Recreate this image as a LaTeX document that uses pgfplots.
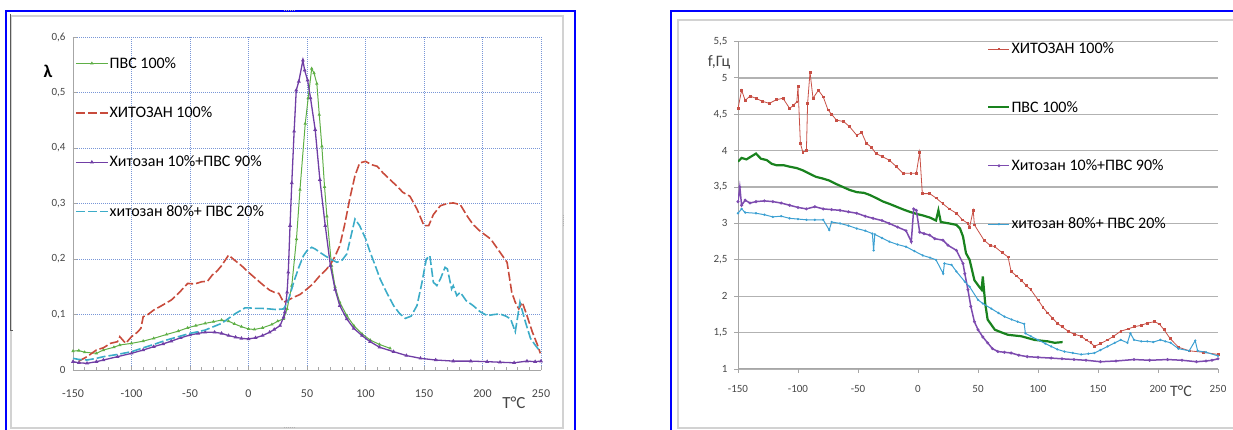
\documentclass[border=0pt]{standalone}
\usepackage{pgfplots}
\pgfplotsset{compat=1.18}
\usepackage{fontspec}
\setmainfont{Carlito}
\definecolor{lgreen}{RGB}{95,175,70}
\definecolor{lred}{RGB}{200,75,60}
\definecolor{lpurple}{RGB}{112,62,165}
\definecolor{lcyan}{RGB}{60,172,200}
\definecolor{rred}{RGB}{200,80,70}
\definecolor{rgreen}{RGB}{25,130,30}
\definecolor{rpurple}{RGB}{125,75,175}
\definecolor{rcyan}{RGB}{60,160,210}
\definecolor{gridblue}{RGB}{120,150,215}
\definecolor{tickgray}{RGB}{70,70,70}
\begin{document}
\begin{tikzpicture}
\path[use as bounding box] (0pt,0pt) rectangle (1233pt,430pt);
% panel frames
\draw[gray!35, line width=1.5pt] (11pt,414pt) rectangle (563pt,2pt);
\draw[blue, line width=2pt] (6pt,419pt) rectangle (575pt,-5pt);
\draw[gray!70!black, line width=0.8pt] (10pt,416pt) -- (10pt,100pt) -- (13pt,100pt);
\draw[gray!60, line width=1pt, dash pattern=on 1pt off 1pt] (284pt,419pt) -- (296pt,419pt);
\draw[gray!60, line width=1pt, dash pattern=on 1pt off 1pt] (284pt,2pt) -- (296pt,2pt);
\draw[gray!60, line width=1pt, dash pattern=on 1pt off 1pt] (563pt,204pt) -- (563pt,216pt);
\draw[gray!35, line width=1.5pt] (678pt,410pt) rectangle (1245pt,2pt);
\draw[blue, line width=2pt] (671pt,419pt) rectangle (1245pt,-5pt);

% ---------------- left chart ----------------
\begin{axis}[
  at={(73pt,60pt)}, anchor=south west,
  scale only axis, width=468pt, height=333pt,
  xmin=-150, xmax=250, ymin=0, ymax=0.6,
  xtick={-150,-100,-50,0,50,100,150,200,250},
  ytick={0,0.1,0.2,0.3,0.4,0.5,0.6},
  minor x tick num=4,
  xtick pos=bottom, ytick pos=left,
  axis line style={draw=none},
  clip mode=individual,
  tick align=inside, major tick length=4pt, minor tick length=3pt,
  tick style={draw=gray!70, line width=0.6pt},
  xmajorgrids, ymajorgrids,
  major grid style={draw=gridblue, dash pattern=on 1pt off 1pt, line width=0.8pt},
  /pgf/number format/use comma,
  /pgf/number format/assume math mode=true,
  ticklabel style={font=\fontsize{11}{12}\selectfont, text=tickgray},
  xticklabel style={yshift=-16pt, font=\fontsize{12}{13}\selectfont},
  yticklabel style={xshift=-4pt},
  legend cell align=left,
  legend style={at={(rel axis cs:0.004,0.943)}, anchor=north west, draw=none, fill=none,
    font=\fontsize{16}{17}\selectfont, row sep=35pt, inner sep=0pt,
    nodes={inner sep=1pt}},
  legend image code/.code={\draw[#1, mark repeat=2, mark phase=2] plot coordinates {(0pt,0pt) (16pt,0pt) (32pt,0pt)};},
]
\draw[gray!70, line width=0.8pt] (rel axis cs:0,1) -- (rel axis cs:0,0) -- (rel axis cs:1,0);
\addplot[lgreen, line width=1pt, mark=triangle*, mark size=1pt] coordinates {
(-150,0.034) (-145,0.035) (-140,0.032) (-130,0.030) (-124,0.036) (-115,0.041) (-110,0.045)
(-100,0.048) (-90,0.052) (-81,0.057) (-70,0.064) (-60,0.070) (-52,0.076) (-45,0.080)
(-37,0.084) (-30,0.087) (-23,0.090) (-17,0.088) (-12,0.083) (-6,0.078) (0,0.074) (5,0.073)
(12,0.076) (20,0.082) (25,0.088) (30,0.092) (33,0.110) (37,0.152) (41,0.236) (44,0.325)
(48.5,0.444) (51,0.490) (54,0.543) (56,0.535) (58.4,0.516) (60.5,0.460) (62.7,0.403)
(65,0.330) (67,0.277) (71,0.188) (74,0.150) (78,0.122) (84,0.098) (90,0.080) (97,0.065)
(104,0.054) (112,0.046) (121,0.039)};
\addlegendentry{ПВС  100\%}
\addplot[lred, line width=1.6pt, dash pattern=on 9pt off 3pt] coordinates {
(-145,0.016) (-138,0.024) (-130,0.036) (-124,0.040) (-118,0.048) (-112,0.051) (-110,0.060)
(-105,0.048) (-100,0.060) (-95,0.068) (-92,0.075) (-90,0.096) (-86,0.100) (-81,0.108)
(-75,0.115) (-66,0.126) (-59,0.140) (-52,0.156) (-46,0.155) (-40,0.159) (-35,0.160)
(-31,0.171) (-27,0.178) (-23,0.188) (-17,0.207) (-12,0.198) (-6,0.188) (0,0.176) (6,0.165)
(12,0.154) (18,0.144) (22,0.140) (26,0.138) (30,0.122) (34,0.126) (38.6,0.131) (44,0.136)
(50,0.146) (55,0.155) (61,0.170) (66,0.180) (70,0.190) (74,0.205) (78,0.224) (82,0.260)
(87,0.313) (91,0.350) (95,0.373) (100,0.376) (105,0.370) (110,0.367) (115,0.355) (120,0.345)
(127,0.331) (132,0.320) (138,0.313) (144,0.290) (150,0.260) (154,0.260) (158,0.280)
(164,0.296) (170,0.300) (175,0.301) (181,0.298) (187,0.277) (192,0.262) (198,0.250)
(207,0.236) (215,0.212) (221,0.194) (225,0.140) (228,0.122) (231,0.110) (234,0.122)
(238,0.098) (242.5,0.069) (247,0.045) (249.4,0.030)};
\addlegendentry{ХИТОЗАН 100\%}
\addplot[lpurple, line width=1.3pt, mark=triangle*, mark size=1pt] coordinates {
(-150,0.015) (-145,0.013) (-138,0.012) (-130,0.015) (-124,0.018) (-112,0.024) (-100,0.030)
(-90,0.036) (-81,0.042) (-73,0.047) (-66,0.052) (-58,0.058) (-50,0.063) (-43,0.066)
(-37,0.068) (-29,0.068) (-23,0.066) (-17,0.062) (-11,0.059) (-6,0.057) (0,0.056) (6,0.058)
(12,0.062) (18,0.068) (22,0.073) (27,0.080) (30,0.095) (31,0.104) (33,0.140) (34,0.176)
(35.5,0.260) (37,0.337) (39,0.430) (40.8,0.504) (43,0.520) (46.5,0.558) (48,0.540)
(50.5,0.522) (53,0.490) (57,0.433) (61,0.343) (65.6,0.260) (70,0.188) (74,0.145) (78,0.116)
(84,0.092) (90,0.075) (97,0.062) (104,0.051) (112,0.041) (124,0.033) (135,0.026) (147,0.021)
(160,0.018) (175,0.016) (190,0.016) (204,0.015) (215,0.014) (227,0.013) (238,0.016)
(245,0.015) (250,0.016)};
\addlegendentry{Хитозан 10\%+ПВС 90\%}
\addplot[lcyan, line width=1.6pt, dash pattern=on 9pt off 3pt] coordinates {
(-150,0.021) (-145,0.019) (-138,0.018) (-130,0.021) (-124,0.024) (-112,0.028) (-100,0.033)
(-90,0.040) (-81,0.046) (-70,0.054) (-60,0.060) (-50,0.066) (-43,0.069) (-37,0.072)
(-30,0.078) (-23,0.084) (-17,0.093) (-11,0.102) (-6,0.108) (-3,0.112) (0,0.112) (6,0.111)
(12,0.111) (18,0.110) (23,0.109) (30,0.110) (34,0.125) (38.6,0.158) (43,0.185) (47,0.206)
(50,0.215) (54,0.221) (57,0.218) (61,0.212) (66,0.205) (70,0.200) (75.6,0.194) (80,0.198)
(84,0.209) (88,0.245) (91,0.272) (95,0.260) (100,0.237) (104,0.212) (108,0.190)
(112.5,0.164) (118,0.140) (124,0.116) (129,0.102) (134,0.093) (139,0.097) (144,0.116)
(148,0.155) (152,0.200) (155,0.206) (158,0.158) (161,0.152) (164,0.164) (168,0.185)
(170,0.182) (173.6,0.146) (175,0.152) (178,0.134) (181,0.140) (186,0.125) (192,0.116)
(198,0.105) (204,0.098) (210,0.100) (215,0.101) (220,0.097) (224,0.092) (228,0.069)
(232,0.122) (236.6,0.087) (241,0.057) (245,0.045) (249.4,0.033)};
\addlegendentry{хитозан 80\%+  ПВС 20\%}
\end{axis}
\node[font=\fontsize{18}{18}\selectfont\bfseries] at (48pt,359pt) {λ};
\node[font=\fontsize{17}{17}\selectfont, text=tickgray] at (514pt,27pt) {T°C};

% ---------------- right chart ----------------
\begin{axis}[
  at={(738pt,61pt)}, anchor=south west,
  scale only axis, width=480pt, height=327.5pt,
  xmin=-150, xmax=250, ymin=1, ymax=5.5,
  xtick={-150,-100,-50,0,50,100,150,200,250},
  ytick={1,1.5,2,2.5,3,3.5,4,4.5,5,5.5},
  xtick pos=bottom, ytick pos=left,
  axis line style={draw=none},
  clip mode=individual,
  tick align=outside, major tick length=4pt,
  tick style={draw=gray!70, line width=0.8pt},
  ymajorgrids,
  major grid style={draw=gray!60, line width=1.3pt},
  /pgf/number format/use comma,
  /pgf/number format/assume math mode=true,
  ticklabel style={font=\fontsize{11}{12}\selectfont, text=tickgray},
  xticklabel style={yshift=-9pt},
  yticklabel style={xshift=-3pt},
  legend cell align=left,
  legend style={at={(rel axis cs:0.519,1.0)}, anchor=north west, draw=none, fill=none,
    font=\fontsize{16}{17}\selectfont, row sep=44pt, inner sep=0pt,
    nodes={inner sep=1pt}},
  legend image code/.code={\draw[#1, mark repeat=2, mark phase=2] plot coordinates {(0pt,0pt) (10.5pt,0pt) (21pt,0pt)};},
]
\draw[gray!70, line width=1pt] (rel axis cs:0,1) -- (rel axis cs:0,0) -- (rel axis cs:1,0);
\addplot[rred, line width=0.8pt, mark=square*, mark size=0.9pt] coordinates {
(-150,4.58) (-147,4.83) (-144,4.69) (-140,4.75) (-135,4.72) (-130,4.68) (-124,4.65)
(-118,4.70) (-112.5,4.72) (-107,4.58) (-104,4.62) (-101,4.67) (-100,4.88) (-98,4.10)
(-96,3.98) (-93,4.00) (-92,4.65) (-90,5.08) (-87.5,4.72) (-83,4.83) (-79,4.74) (-75,4.56)
(-72,4.50) (-68,4.42) (-62,4.40) (-57,4.33) (-51,4.21) (-47,4.25) (-43,4.10) (-39,4.05)
(-35,3.96) (-30,3.92) (-24,3.87) (-18,3.78) (-12.5,3.69) (-6,3.69) (-1.4,3.69) (1.4,3.98)
(3.6,3.41) (9.7,3.41) (15,3.35) (20.8,3.27) (26,3.20) (32,3.14) (37,3.05) (41.6,3.00)
(43,2.95) (46,3.18) (47,2.98) (55,2.77) (60,2.70) (64,2.68) (70,2.60) (75,2.54) (77.6,2.34)
(82,2.28) (86,2.22) (90,2.15) (94,2.09) (100,1.95) (104,1.85) (108,1.77) (112,1.70)
(116,1.63) (120,1.58) (125,1.52) (130,1.48) (136,1.45) (140,1.40) (144,1.36) (147,1.31)
(152,1.35) (158,1.40) (163,1.45) (169,1.52) (175,1.55) (180,1.58) (186,1.60) (191,1.63)
(197,1.65) (201,1.62) (205,1.54) (210,1.42) (217,1.30) (226,1.25) (237.5,1.23) (250,1.20)};
\addlegendentry{ХИТОЗАН 100\%}
\addplot[rgreen, line width=2.2pt] coordinates {
(-150,3.85) (-147,3.90) (-143,3.88) (-138,3.93) (-135,3.96) (-131,3.89) (-126,3.87)
(-122,3.82) (-118,3.80) (-112,3.80) (-107,3.78) (-101,3.76) (-96,3.73) (-90,3.68)
(-85,3.64) (-80,3.62) (-74,3.59) (-68,3.54) (-62.5,3.50) (-57,3.46) (-51,3.43) (-45,3.42)
(-40,3.39) (-35,3.35) (-29,3.30) (-24,3.27) (-18,3.23) (-12,3.19) (-7,3.16) (-1,3.13)
(4,3.11) (10,3.08) (15,3.04) (17,3.18) (19,3.02) (26,3.00) (32,2.98) (35,2.93) (37.5,2.82)
(40,2.59) (43,2.50) (47,2.22) (51,2.13) (53,2.09) (54,2.27) (56,1.90) (58,1.68) (64,1.54)
(70,1.50) (75,1.47) (86,1.45) (97,1.40) (108,1.38) (114,1.36) (120.5,1.37)};
\addlegendentry{ПВС  100\%}
\addplot[rpurple, line width=1.5pt, mark=*, mark size=0.6pt] coordinates {
(-150,3.30) (-148.5,3.50) (-147,3.25) (-144,3.32) (-140,3.28) (-135,3.30) (-128,3.31)
(-121,3.30) (-114,3.28) (-107,3.25) (-100,3.22) (-93,3.20) (-86,3.23) (-79,3.20) (-72,3.19)
(-65,3.18) (-58,3.16) (-51,3.14) (-44,3.10) (-37.5,3.07) (-30,3.04) (-24,3.00) (-17,2.95)
(-10,2.90) (-5.6,2.75) (-3.6,3.20) (-1.4,3.18) (1.4,2.88) (5,2.86) (9.7,2.84) (14,2.79)
(20.8,2.77) (25,2.70) (32,2.63) (37.5,2.45) (39,2.31) (41.6,2.09) (44,1.86) (47,1.65)
(50,1.54) (54,1.44) (58,1.36) (62,1.28) (66.5,1.24) (72,1.23) (77.6,1.22) (84,1.19)
(91,1.17) (100,1.16) (111,1.15) (120,1.14) (130,1.13) (140,1.12) (152,1.10) (165,1.11)
(180,1.13) (193,1.12) (208,1.13) (220,1.12) (232,1.10) (240,1.11) (245,1.12) (250,1.14)};
\addlegendentry{Хитозан 10\%+ПВС 90\%}
\addplot[rcyan, line width=1pt, mark=*, mark size=0.6pt] coordinates {
(-150,3.14) (-147,3.20) (-144,3.15) (-135,3.14) (-128,3.12) (-121,3.09) (-114,3.10)
(-107,3.07) (-100,3.06) (-93,3.05) (-86,3.05) (-79,3.05) (-74,2.91) (-72,3.02) (-65,3.00)
(-58,2.97) (-51,2.93) (-44,2.90) (-38,2.86) (-37,2.63) (-36,2.85) (-30,2.80) (-24,2.75)
(-17,2.71) (-10,2.68) (-3,2.62) (4,2.56) (10,2.53) (15,2.50) (21,2.31) (22,2.45) (28,2.43)
(32,2.34) (39,2.20) (43,2.13) (50,1.95) (54,1.90) (61,1.83) (67,1.77) (72,1.72) (78,1.68)
(83,1.65) (88.5,1.62) (89.5,1.49) (94,1.45) (100,1.40) (106,1.35) (111,1.31) (116,1.27)
(122,1.24) (129,1.22) (136,1.20) (142,1.21) (147,1.22) (152,1.26) (158,1.31) (164,1.36)
(169,1.40) (174.5,1.36) (177,1.49) (180,1.40) (186,1.38) (191,1.38) (196,1.37) (202,1.40)
(206,1.38) (210.5,1.36) (217,1.28) (226,1.25) (231,1.39) (233,1.25) (240,1.23) (250,1.18)};
\addlegendentry{хитозан 80\%+  ПВС 20\%}
\end{axis}
\node[font=\fontsize{16}{16}\selectfont, text=tickgray] at (719pt,368pt) {f,Гц};
\node[font=\fontsize{16}{16}\selectfont, text=tickgray] at (1181pt,39pt) {T°C};
\end{tikzpicture}
\end{document}
